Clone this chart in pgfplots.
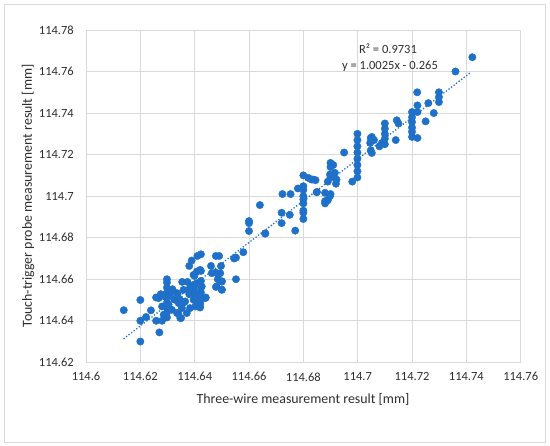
\documentclass[border=0pt]{standalone}
\usepackage{pgfplots}
\pgfplotsset{compat=1.18}
\usepackage{pgfplotstable}
\usepackage{fontspec}
\setmainfont{Carlito}
\definecolor{gridgray}{RGB}{217,217,217}
\definecolor{bordergray}{RGB}{217,217,217}
\definecolor{dotblue}{RGB}{30,112,200}
\definecolor{txt}{RGB}{45,45,45}
\pgfplotstableread{
x y
114.6139 114.6451
114.620 114.650
114.620 114.640
114.620 114.630
114.6221 114.6418
114.6239 114.645
114.6258 114.6512
114.6258 114.640
114.628 114.640
114.627 114.6344
114.6275 114.6528
114.6285 114.6520
114.6298 114.660
114.6298 114.6584
114.6298 114.656
114.6298 114.6536
114.6298 114.6512
114.6298 114.6488
114.6298 114.6464
114.6298 114.644
114.6298 114.6416
114.6318 114.6552
114.6324 114.6504
114.6337 114.6528
114.634 114.6436
114.635 114.6413
114.6354 114.6587
114.6373 114.6587
114.6385 114.6563
114.6345 114.6504
114.6360 114.6488
114.6380 114.6528
114.6397 114.6552
114.6403 114.6504
114.6415 114.6512
114.6420 114.6488
114.6420 114.6464
114.638 114.6664
114.6389 114.669
114.641 114.6712
114.6423 114.672
114.6399 114.6616
114.6423 114.664
114.6423 114.6592
114.6423 114.656
114.6423 114.6536
114.6441 114.6512
114.646 114.6664
114.6478 114.6712
114.649 114.6712
114.6497 114.6664
114.6478 114.6632
114.6485 114.660
114.650 114.659
114.650 114.655
114.6478 114.6563
114.6552 114.6704
114.6552 114.660
114.6579 114.673
114.660 114.6832
114.660 114.687
114.6659 114.682
114.6316 114.6453
114.6335 114.6437
114.6347 114.6413
114.6371 114.6437
114.6402 114.6469
114.642 114.6477
114.6396 114.6501
114.6365 114.6493
114.6328 114.6501
114.6304 114.6477
114.6286 114.6429
114.628 114.6469
114.6310 114.6533
114.6335 114.6533
114.6359 114.6549
114.6377 114.6549
114.639 114.6533
114.6402 114.6533
114.6408 114.6581
114.6426 114.6565
114.6383 114.6461
114.6353 114.6461
114.6341 114.6485
114.6292 114.6517
114.6267 114.6509
114.642 114.6645
114.6408 114.6637
114.6396 114.6621
114.6396 114.6573
114.6463 114.6629
114.6494 114.6629
114.650 114.6589
114.6481 114.6565
114.650 114.6549
114.6439 114.6509
114.6545 114.670
114.660 114.688
114.664 114.6957
114.666 114.682
114.672 114.692
114.675 114.691
114.672 114.687
114.677 114.6834
114.6723 114.701
114.6753 114.701
114.678 114.7037
114.680 114.703
114.680 114.700
114.680 114.6965
114.680 114.693
114.680 114.689
114.680 114.710
114.680 114.7048
114.680 114.6984
114.680 114.692
114.683 114.708
114.6845 114.7077
114.685 114.702
114.690 114.701
114.689 114.698
114.688 114.6965
114.690 114.716
114.690 114.714
114.691 114.715
114.690 114.709
114.689 114.707
114.692 114.706
114.6916 114.7112
114.6898 114.7104
114.6922 114.708
114.688 114.7016
114.6898 114.700
114.688 114.6976
114.6849 114.7019
114.6836 114.708
114.6818 114.7088
114.695 114.721
114.698 114.707
114.6999 114.730
114.6999 114.727
114.6999 114.724
114.6999 114.721
114.6999 114.718
114.6999 114.715
114.6999 114.712
114.6999 114.709
114.7048 114.728
114.7048 114.722
114.708 114.724
114.7046 114.7256
114.7052 114.7208
114.7089 114.7256
114.7422 114.7669
114.736 114.760
114.7219 114.750
114.7299 114.750
114.7299 114.7477
114.7299 114.7453
114.726 114.7448
114.722 114.7437
114.720 114.7405
114.720 114.738
114.720 114.7357
114.720 114.733
114.720 114.731
114.720 114.7285
114.722 114.7405
114.728 114.740
114.725 114.736
114.722 114.728
114.7144 114.7365
114.715 114.735
114.714 114.727
114.710 114.735
114.710 114.7325
114.710 114.730
114.710 114.7277
114.710 114.725
114.7052 114.7285
114.706 114.727
}\points
\begin{document}
\fontsize{12.5bp}{15bp}\selectfont
\begin{tikzpicture}
\path (0,0) rectangle (550bp,446bp);
\draw[bordergray, line width=0.8bp] (4bp,4bp) rectangle (545.5bp,442bp);
\begin{axis}[
  at={(86bp,83.7bp)}, anchor=south west,
  scale only axis, width=434.7bp, height=332.3bp,
  xmin=114.6, xmax=114.76, ymin=114.62, ymax=114.78,
  xtick={114.6,114.62,114.64,114.66,114.68,114.7,114.72,114.74,114.76},
  xticklabels={114.6,114.62,114.64,114.66,114.68,114.7,114.72,114.74,114.76},
  ytick={114.62,114.64,114.66,114.68,114.7,114.72,114.74,114.76,114.78},
  yticklabels={114.62,114.64,114.66,114.68,114.7,114.72,114.74,114.76,114.78},
  major tick length=0pt,
  grid=major,
  grid style={gridgray, line width=0.8bp},
  axis line style={gridgray, line width=0.8bp},
  xticklabel style={inner sep=0pt, anchor=north, yshift=-10bp, text=txt, font=\fontsize{12.5bp}{15bp}\selectfont},
  yticklabel style={inner sep=0pt, anchor=east, xshift=-12bp, text=txt, font=\fontsize{12.5bp}{15bp}\selectfont},
]
\addplot[only marks, mark=*, color=dotblue, mark size=3.7bp] table[x=x, y=y] {\points};
\addplot[dotblue, line width=1.8bp, line cap=round, dash pattern=on 0pt off 3.2bp] coordinates {(114.614,114.6315) (114.742,114.760)};
\end{axis}
\node[text=txt, font=\fontsize{13.9bp}{16bp}\selectfont] at (303bp,47bp) {Three-wire measurement result [mm]};
\node[text=txt, rotate=90, font=\fontsize{13.9bp}{16bp}\selectfont] at (28bp,250bp) {Touch-trigger probe measurement result [mm]};
\node[text=txt] at (388bp,397bp) {R² = 0.9731};
\node[text=txt] at (390bp,380bp) {y = 1.0025x - 0.265};
\end{tikzpicture}
\end{document}
